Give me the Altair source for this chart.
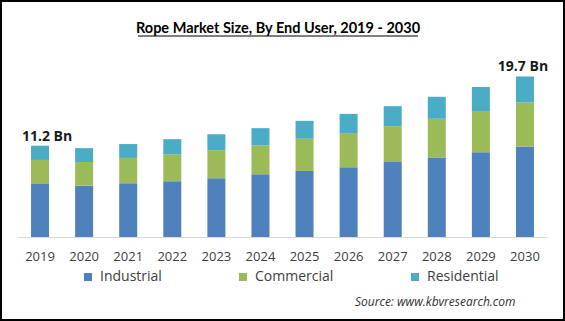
import altair as alt
import pandas as pd

years = [str(y) for y in range(2019, 2031)]
industrial = [6.5, 6.3, 6.6, 6.85, 7.2, 7.7, 8.1, 8.55, 9.2, 9.7, 10.4, 11.1]
commercial = [2.95, 2.9, 3.1, 3.3, 3.45, 3.55, 3.95, 4.2, 4.4, 4.8, 5.05, 5.4]
residential = [1.75, 1.7, 1.7, 1.85, 1.95, 2.1, 2.2, 2.35, 2.45, 2.7, 2.95, 3.2]
segments = ["Industrial", "Commercial", "Residential"]
colors = ["#4F81BD", "#9BBB59", "#4BACC6"]

label_years = ["2019", "2030"]
label_values = [11.2, 19.7]
label_texts = ["11.2 Bn", "19.7 Bn"]

title_text = "Rope Market Size, By End User, 2019 - 2030"
source_text = "Source:  www.kbvresearch.com"

rows = []
for i, y in enumerate(years):
    for k, (seg, vals) in enumerate(zip(segments, [industrial, commercial, residential])):
        rows.append({"year": y, "segment": seg, "value": vals[i], "order": k})
df = pd.DataFrame(rows)
labels_df = pd.DataFrame({"year": label_years, "value": label_values, "text": label_texts})

x_enc = alt.X("year:N", sort=years, title=None,
              scale=alt.Scale(paddingInner=0.59, paddingOuter=0.295),
              axis=alt.Axis(labelAngle=0, ticks=False, domainColor="#d9d9d9", domainWidth=1,
                            labelFontSize=13, labelFont="Open Sans", labelColor="#404040",
                            labelPadding=13))
y_scale = alt.Scale(domain=[0, 22.2], nice=False)

bars = alt.Chart(df).mark_bar(size=18).encode(
    x=x_enc,
    y=alt.Y("value:Q", stack="zero", scale=y_scale, axis=None),
    color=alt.Color("segment:N", sort=segments,
                    scale=alt.Scale(domain=segments, range=colors),
                    legend=alt.Legend(title=None, orient="none", legendX=63, legendY=214,
                                      direction="horizontal", columns=3, columnPadding=74,
                                      symbolType="square", symbolSize=64, symbolStrokeWidth=0,
                                      labelFontSize=14, labelFont="Open Sans",
                                      labelColor="#404040", labelOffset=5)),
    order=alt.Order("order:Q"),
)

lab_left = alt.Chart(labels_df).transform_filter(alt.datum.year == "2019").mark_text(
    font="Open Sans", fontSize=14, fontWeight="bold", color="#1a1a1a",
    baseline="bottom", dy=-2, dx=7
).encode(x=alt.X("year:N", sort=years), y=alt.Y("value:Q", scale=y_scale), text="text:N")

lab_right = alt.Chart(labels_df).transform_filter(alt.datum.year == "2030").mark_text(
    font="Open Sans", fontSize=14, fontWeight="bold", color="#1a1a1a",
    baseline="bottom", dy=-2, dx=-2
).encode(x=alt.X("year:N", sort=years), y=alt.Y("value:Q", scale=y_scale), text="text:N")

title = alt.Chart(pd.DataFrame({"t": [title_text]})).mark_text(
    font="Lato", fontSize=14.5, fontWeight="bold", color="#000",
    align="center", baseline="middle"
).encode(x=alt.value(260), y=alt.value(-27), text="t:N")

underline = alt.Chart(pd.DataFrame({"t": [title_text]})).mark_rule(color="#000", strokeWidth=1.2).encode(
    x=alt.value(120), x2=alt.value(400), y=alt.value(-20)
)

border = alt.Chart(pd.DataFrame({"t": [1]})).mark_rect(filled=False, stroke="#000", strokeWidth=2).encode(
    x=alt.value(-17), x2=alt.value(546), y=alt.value(-55), y2=alt.value(264)
)

source = alt.Chart(pd.DataFrame({"t": [source_text]})).mark_text(
    font="Open Sans", fontSize=12, fontStyle="italic", color="#333333",
    align="left", baseline="middle"
).encode(x=alt.value(337), y=alt.value(246), text="t:N")

chart = alt.layer(bars, lab_left, lab_right, title, underline, border, source).properties(
    width=529, height=181,
    autosize=alt.AutoSizeParams(type="none"),
    padding={"left": 18, "right": 18, "top": 56, "bottom": 84},
    background="white",
).configure_view(stroke=None)

chart.save("out.html", embed_options={"renderer": "svg", "actions": False})
